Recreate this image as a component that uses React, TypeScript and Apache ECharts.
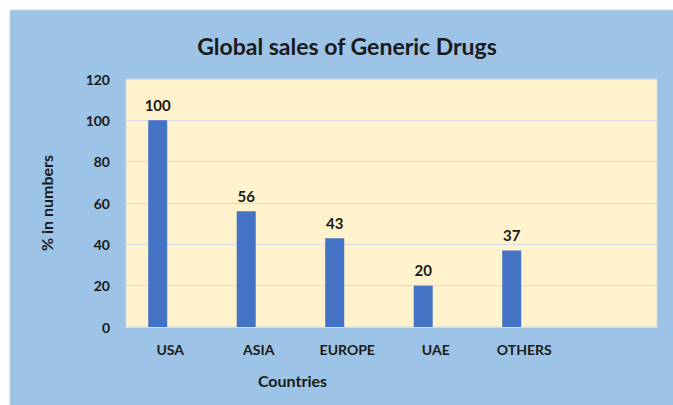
import React, { useEffect, useRef } from "react";
import * as echarts from "echarts";

const categories = ["USA", "ASIA", "EUROPE", "UAE", "OTHERS", ""];
const sales = [100, 56, 43, 20, 37];
const placeholder = [null, null, null, null, null];
const yTicks = { min: 0, max: 120, interval: 20 };

const FONT = "Lato";
const TEXT = "#1a1a1a";

export default function App() {
  const ref = useRef<HTMLDivElement>(null);
  useEffect(() => {
    if (!ref.current) return;
    const chart = echarts.init(ref.current, null, { renderer: "svg" });
    chart.setOption({
      animation: false,
      backgroundColor: "#ffffff",
      graphic: [
        {
          type: "rect",
          z: -10,
          silent: true,
          shape: { x: 10, y: 10, width: 670, height: 400 },
          style: { fill: "#9DC3E6", stroke: "#cfd3d8", lineWidth: 1 },
        },
      ],
      title: {
        text: "Global sales of Generic Drugs",
        left: 342,
        textAlign: "center",
        top: 29,
        textStyle: { fontFamily: FONT, fontWeight: "bold", fontSize: 23, color: TEXT },
      },
      grid: {
        left: 126,
        top: 79,
        width: 531,
        height: 248,
        show: true,
        backgroundColor: "#FFF2CC",
        borderColor: "#D5DCE4",
        borderWidth: 1,
      },
      xAxis: {
        type: "category",
        data: categories,
        name: "Countries",
        nameLocation: "middle",
        nameGap: 45,
        nameTextStyle: {
          fontFamily: FONT,
          fontWeight: "bold",
          fontSize: 16,
          color: TEXT,
          padding: [0, 198, 0, 0],
        },
        axisLine: { show: true, lineStyle: { color: "#D5DCE4" } },
        axisTick: { show: false },
        axisLabel: { fontFamily: FONT, fontWeight: "bold", fontSize: 14, color: TEXT, margin: 15 },
      },
      yAxis: {
        type: "value",
        min: yTicks.min,
        max: yTicks.max,
        interval: yTicks.interval,
        name: "% in numbers",
        nameLocation: "middle",
        nameGap: 72,
        nameTextStyle: { fontFamily: FONT, fontWeight: "bold", fontSize: 16, color: TEXT },
        axisLine: { show: false },
        axisTick: { show: false },
        axisLabel: { fontFamily: FONT, fontWeight: "bold", fontSize: 14, color: TEXT, margin: 16 },
        splitLine: { show: true, lineStyle: { color: "#D5DCE4", width: 1 } },
      },
      series: [
        {
          type: "bar",
          data: sales,
          barWidth: 19,
          barGap: "32%",
          itemStyle: { color: "#4472C4" },
          label: {
            show: true,
            position: "top",
            distance: 8,
            fontFamily: FONT,
            fontWeight: "bold",
            fontSize: 15,
            color: TEXT,
          },
        },
        {
          type: "bar",
          data: placeholder,
          barWidth: 19,
          itemStyle: { color: "#ED7D31" },
        },
      ],
    });
    return () => chart.dispose();
  }, []);
  return (
    <div
      ref={ref}
      style={{ position: "fixed", left: 0, top: 0, width: 673, height: 405 }}
    />
  );
}
